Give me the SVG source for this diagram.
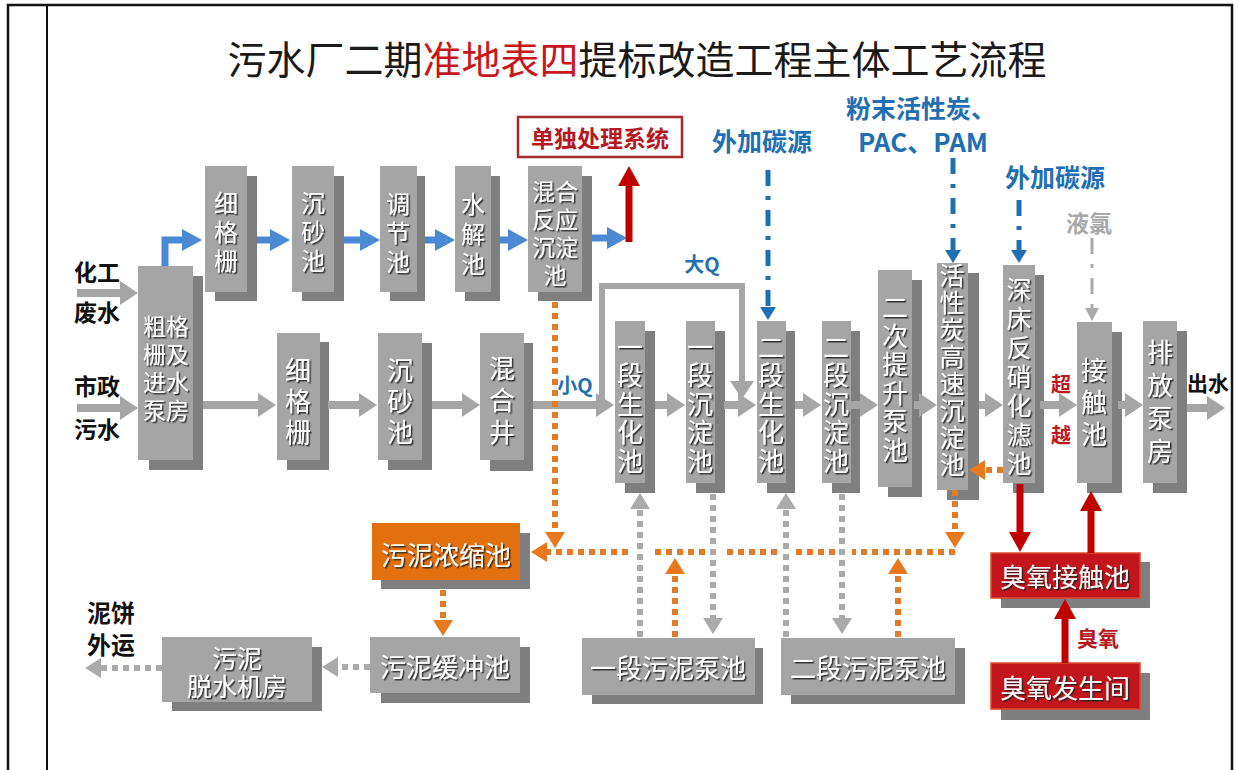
<svg xmlns="http://www.w3.org/2000/svg" width="1239" height="770" viewBox="0 0 1239 770">
<defs>
<style>
text{font-family:"Noto Sans CJK SC","Noto Sans",sans-serif;dominant-baseline:central;text-anchor:middle}
.v{writing-mode:vertical-rl}
.box{fill:#a5a5a5}
.sh{fill:#7f7f7f}
.org{fill:#e2700f}
.red{fill:#c3161c;stroke:#dd4a2a;stroke-width:1.5}
.bt{fill:#fff;font-size:26px;filter:url(#ts)}
.tt{fill:#fff;font-size:24px;filter:url(#ts)}
.st{fill:#fff;font-size:25px;filter:url(#ts)}
.ht{fill:#fff;font-size:26px;filter:url(#ts)}
.lb{fill:#111;font-size:23px;font-weight:bold;text-anchor:start}
.bl{fill:#1f6fb2;font-size:25px;font-weight:bold}
.cg{fill:none;stroke:#a5a5a5;stroke-width:8}
.cq{fill:none;stroke:#a5a5a5;stroke-width:6}
.cb{fill:none;stroke:#4a8ad4;stroke-width:7}
.cr{fill:none;stroke:#c00000;stroke-width:7}
.cgd{fill:none;stroke:#aaaaaa;stroke-width:6;stroke-dasharray:6 5}
.cod{fill:none;stroke:#e07b28;stroke-width:6;stroke-dasharray:6 5}
.cdd{fill:none;stroke:#1f6fb2;stroke-width:5;stroke-dasharray:16 10 4 10}
.cld{fill:none;stroke:#aaaaaa;stroke-width:3;stroke-dasharray:16 10 4 10}
</style>
<filter id="ts" x="-20%" y="-20%" width="150%" height="150%">
<feDropShadow dx="1.5" dy="1.5" stdDeviation="0.6" flood-color="#222" flood-opacity="0.85"/>
</filter>
<marker id="mg" markerUnits="userSpaceOnUse" viewBox="0 0 18 24" markerWidth="18" markerHeight="24" refX="0" refY="12" orient="auto"><path d="M0,0 L18,12 L0,24 Z" fill="#a5a5a5"/></marker>
<marker id="mb" markerUnits="userSpaceOnUse" viewBox="0 0 20 22" markerWidth="20" markerHeight="22" refX="0" refY="11" orient="auto"><path d="M0,0 L20,11 L0,22 Z" fill="#4a8ad4"/></marker>
<marker id="mr" markerUnits="userSpaceOnUse" viewBox="0 0 20 22" markerWidth="20" markerHeight="22" refX="0" refY="11" orient="auto"><path d="M0,0 L20,11 L0,22 Z" fill="#c00000"/></marker>
<marker id="mgd" markerUnits="userSpaceOnUse" viewBox="0 0 16 20" markerWidth="16" markerHeight="20" refX="0" refY="10" orient="auto"><path d="M0,0 L16,10 L0,20 Z" fill="#aaaaaa"/></marker>
<marker id="mo" markerUnits="userSpaceOnUse" viewBox="0 0 16 20" markerWidth="16" markerHeight="20" refX="0" refY="10" orient="auto"><path d="M0,0 L16,10 L0,20 Z" fill="#e8781e"/></marker>
<marker id="mbs" markerUnits="userSpaceOnUse" viewBox="0 0 13 16" markerWidth="13" markerHeight="16" refX="0" refY="8" orient="auto"><path d="M0,0 L13,8 L0,16 Z" fill="#1f6fb2"/></marker>
<marker id="mls" markerUnits="userSpaceOnUse" viewBox="0 0 13 14" markerWidth="13" markerHeight="14" refX="0" refY="7" orient="auto"><path d="M0,0 L13,7 L0,14 Z" fill="#aaaaaa"/></marker>
</defs>

<rect width="1239" height="770" fill="#fff"/>
<g id="frame" fill="none" stroke="#111">
<path d="M8,770 V5 H1232 V770" stroke-width="2.5"/>
<line x1="47" y1="5" x2="47" y2="770" stroke-width="2"/>
</g>

<text id="title" x="637" y="57" font-size="39" fill="#1a1a1a">污水厂二期<tspan fill="#c8161d">准地表四</tspan>提标改造工程主体工艺流程</text>

<!-- top row (chemical wastewater) -->
<g id="n-xgs1"><rect class="sh" x="215" y="176" width="42" height="125"/><rect class="box" x="205" y="166" width="42" height="126"/>
<text class="tt v" x="226" y="234.5" letter-spacing="5">细格栅</text></g>
<g id="n-csc1"><rect class="sh" x="302" y="176" width="42" height="125"/><rect class="box" x="292" y="166" width="42" height="126"/>
<text class="tt v" x="313" y="234.5" letter-spacing="5">沉砂池</text></g>
<g id="n-tjc"><rect class="sh" x="390" y="176" width="35" height="125"/><rect class="box" x="380" y="166" width="37" height="126"/>
<text class="tt v" x="398" y="235" letter-spacing="5">调节池</text></g>
<g id="n-sjc"><rect class="sh" x="465" y="176" width="35" height="125"/><rect class="box" x="455" y="166" width="36" height="126"/>
<text class="tt v" x="473" y="237" letter-spacing="6">水解池</text></g>
<g id="n-hhfy"><rect class="sh" x="538" y="176" width="54" height="125"/><rect class="box" x="528" y="166" width="54" height="126"/>
<text class="tt" style="font-size:23px"><tspan x="555" y="190">混合</tspan><tspan x="555" y="218">反应</tspan><tspan x="555" y="246">沉淀</tspan><tspan x="555" y="274">池</tspan></text></g>

<g id="n-ddcl"><rect x="518" y="117" width="164" height="40" fill="#fff" stroke="#a52a2a" stroke-width="2.5"/>
<text x="600" y="137" font-size="23" font-weight="bold" fill="#b5191f">单独处理系统</text></g>

<!-- main row -->
<g id="n-cgs"><rect class="sh" x="149" y="276" width="54" height="194"/><rect class="box" x="138" y="266" width="55" height="194"/>
<text class="tt" style="font-size:23px"><tspan x="166" y="325">粗格</tspan><tspan x="166" y="353">栅及</tspan><tspan x="166" y="381">进水</tspan><tspan x="166" y="409">泵房</tspan></text></g>
<g id="n-xgs2"><rect class="sh" x="287" y="342" width="42" height="128"/><rect class="box" x="277" y="333" width="43" height="127"/>
<text class="bt v" x="298" y="403.5" letter-spacing="5">细格栅</text></g>
<g id="n-csc2"><rect class="sh" x="388" y="343" width="44" height="127"/><rect class="box" x="378" y="333" width="44" height="127"/>
<text class="bt v" x="400" y="403.5" letter-spacing="5">沉砂池</text></g>
<g id="n-hhj"><rect class="sh" x="490" y="343" width="43" height="128"/><rect class="box" x="480" y="333" width="44" height="127"/>
<text class="bt v" x="502" y="403" letter-spacing="6">混合井</text></g>
<g id="n-ydsh"><rect class="sh" x="625" y="331" width="30" height="162"/><rect class="box" x="615" y="321" width="30" height="162"/>
<text class="bt v" x="630" y="405" letter-spacing="2.5">一段生化池</text></g>
<g id="n-ydcd"><rect class="sh" x="696" y="331" width="29" height="162"/><rect class="box" x="686" y="321" width="29" height="162"/>
<text class="bt v" x="700" y="405" letter-spacing="2.5">一段沉淀池</text></g>
<g id="n-edsh"><rect class="sh" x="767" y="331" width="28" height="162"/><rect class="box" x="757" y="321" width="29" height="162"/>
<text class="bt v" x="771" y="405" letter-spacing="2.5">二段生化池</text></g>
<g id="n-edcd"><rect class="sh" x="832" y="331" width="28" height="162"/><rect class="box" x="822" y="321" width="29" height="162"/>
<text class="bt v" x="836" y="405" letter-spacing="2.5">二段沉淀池</text></g>
<g id="n-ects"><rect class="sh" x="888" y="280" width="34" height="217"/><rect class="box" x="878" y="270" width="34" height="217"/>
<text class="bt v" x="895" y="380" letter-spacing="2.6">二次提升泵池</text></g>
<g id="n-hxt"><rect class="sh" x="947" y="273" width="32" height="227"/><rect class="box" x="937" y="263" width="31" height="227"/>
<text class="st v" x="952" y="370.5" letter-spacing="2">活性炭高速沉淀池</text></g>
<g id="n-scfx"><rect class="sh" x="1013" y="275" width="31" height="218"/><rect class="box" x="1003" y="265" width="32" height="218"/>
<text class="st v" x="1019" y="378" letter-spacing="4">深床反硝化滤池</text></g>
<g id="n-jcc"><rect class="sh" x="1087" y="332" width="35" height="161"/><rect class="box" x="1077" y="322" width="35" height="161"/>
<text class="bt v" x="1094" y="405" letter-spacing="6">接触池</text></g>
<g id="n-pfbf"><rect class="sh" x="1153" y="331" width="34" height="162"/><rect class="box" x="1143" y="321" width="34" height="162"/>
<text class="bt v" x="1160" y="405" letter-spacing="7">排放泵房</text></g>

<!-- sludge & ozone -->
<g id="n-wnns"><rect class="sh" x="381" y="533" width="149" height="56"/><rect class="org" x="372" y="523" width="148" height="57"/>
<text class="ht" x="446" y="553">污泥浓缩池</text></g>
<g id="n-wnhc"><rect class="sh" x="381" y="647" width="149" height="56"/><rect class="box" x="370" y="637" width="150" height="56"/>
<text class="ht" x="445" y="665">污泥缓冲池</text></g>
<g id="n-wnts"><rect class="sh" x="172" y="647" width="150" height="64"/><rect class="box" x="162" y="637" width="150" height="65"/>
<text class="ht" style="font-size:25px"><tspan x="237" y="657">污泥</tspan><tspan x="237" y="685">脱水机房</tspan></text></g>
<g id="n-ydwn"><rect class="sh" x="592" y="648" width="171" height="56"/><rect class="box" x="582" y="638" width="173" height="57"/>
<text class="ht" x="668" y="666">一段污泥泵池</text></g>
<g id="n-edwn"><rect class="sh" x="791" y="648" width="174" height="56"/><rect class="box" x="781" y="638" width="174" height="57"/>
<text class="ht" x="868" y="666">二段污泥泵池</text></g>
<g id="n-cyjc"><rect class="sh" x="1001" y="562" width="149" height="46"/><rect class="red" x="991" y="553" width="149" height="45"/>
<text class="ht" x="1065" y="575">臭氧接触池</text></g>
<g id="n-cyfs"><rect class="sh" x="1001" y="673" width="149" height="47"/><rect class="red" x="991" y="663" width="149" height="46"/>
<text class="ht" x="1065" y="686">臭氧发生间</text></g>

<!-- connectors -->
<g id="connectors">
<path class="cg" d="M77,293 H120" marker-end="url(#mg)"/>
<path class="cg" d="M77,408 H120" marker-end="url(#mg)"/>
<path class="cb" d="M165,266 V240 H182" marker-end="url(#mb)"/>
<path class="cb" d="M257,240 H270" marker-end="url(#mb)"/>
<path class="cb" d="M344,240 H360" marker-end="url(#mb)"/>
<path class="cb" d="M425,240 H435" marker-end="url(#mb)"/>
<path class="cb" d="M500,240 H508" marker-end="url(#mb)"/>
<path class="cb" d="M592,238 H607" marker-end="url(#mb)"/>
<path class="cr" d="M629,242 V186" marker-end="url(#mr)"/>

<path class="cg" d="M203,405 H258" marker-end="url(#mg)"/>
<path class="cg" d="M328,405 H359" marker-end="url(#mg)"/>
<path class="cg" d="M432,405 H462" marker-end="url(#mg)"/>
<path class="cg" d="M533,405 H596" marker-end="url(#mg)"/>
<path class="cq" d="M602,405 V286 H742 V381" marker-end="url(#mg)"/>
<path class="cg" d="M655,405 H667" marker-end="url(#mg)"/>
<path class="cg" d="M724,405 H738" marker-end="url(#mg)"/>
<path class="cg" d="M795,405 H803" marker-end="url(#mg)"/>
<path class="cg" d="M851,405 H860" marker-end="url(#mg)"/>
<path class="cg" d="M914,405 H919" marker-end="url(#mg)"/>
<path class="cg" d="M979,405 H985" marker-end="url(#mg)"/>
<path class="cg" d="M1040,405 H1059" marker-end="url(#mg)"/>
<path class="cg" d="M1118,405 H1125" marker-end="url(#mg)"/>
<path class="cg" d="M1187,408 H1207" marker-end="url(#mg)"/>

<path class="cdd" d="M768,170 V307" marker-end="url(#mbs)"/>
<path class="cdd" d="M953,158 V250" marker-end="url(#mbs)"/>
<path class="cdd" d="M1019,200 V250" marker-end="url(#mbs)"/>
<path class="cld" d="M1092,238 V308" marker-end="url(#mls)"/>

<path class="cgd" d="M640,637 V509" marker-end="url(#mgd)"/>
<path class="cgd" d="M713,494 V618" marker-end="url(#mgd)"/>
<path class="cgd" d="M786,637 V509" marker-end="url(#mgd)"/>
<path class="cgd" d="M842,494 V618" marker-end="url(#mgd)"/>
<path class="cgd" d="M370,667 H338" marker-end="url(#mgd)"/>
<path class="cgd" d="M162,668 H101" marker-end="url(#mgd)"/>

<path class="cod" d="M555,302 V532" marker-end="url(#mo)"/>
<path class="cod" d="M955,552 H852"/>
<path class="cod" d="M835,552 H796"/>
<path class="cod" d="M777,552 H722"/>
<path class="cod" d="M705,552 H650"/>
<path class="cod" d="M628,552 H547" marker-end="url(#mo)"/>
<path class="cod" d="M955,490 V532" marker-end="url(#mo)"/>
<path class="cod" d="M675,637 V574" marker-end="url(#mo)"/>
<path class="cod" d="M898,637 V574" marker-end="url(#mo)"/>
<path class="cod" d="M1003,470 H985" marker-end="url(#mo)"/>
<path class="cod" d="M443,590 V620" marker-end="url(#mo)"/>

<path class="cr" d="M1020,484 V532" marker-end="url(#mr)"/>
<path class="cr" d="M1091,553 V511" marker-end="url(#mr)"/>
<path class="cr" d="M1065,663 V619" marker-end="url(#mr)"/>
</g>

<!-- labels -->
<g id="labels">
<text class="lb" x="74" y="271">化工</text>
<text class="lb" x="74" y="311">废水</text>
<text class="lb" x="74" y="385">市政</text>
<text class="lb" x="74" y="428">污水</text>
<text class="lb" x="87" y="611" style="font-size:24px">泥饼</text>
<text class="lb" x="87" y="643" style="font-size:24px">外运</text>
<text x="1208" y="382" font-size="21" font-weight="bold" fill="#111">出水</text>
<text x="1061" y="383" font-size="20" font-weight="bold" fill="#c0161c">超</text>
<text x="1061" y="434" font-size="20" font-weight="bold" fill="#c0161c">越</text>
<text x="1098" y="637" font-size="21" font-weight="bold" fill="#b5191f">臭氧</text>
<text class="bl" x="762" y="140">外加碳源</text>
<text class="bl" x="921" y="107">粉末活性炭、</text>
<text class="bl" x="923" y="140" style="font-size:26px">PAC、PAM</text>
<text class="bl" x="1055" y="176">外加碳源</text>
<text x="1089" y="222" font-size="23" font-weight="bold" fill="#a8a8a8">液氯</text>
<text class="bl" x="702" y="263" style="font-size:20px">大Q</text>
<text class="bl" x="575" y="384" style="font-size:20px">小Q</text>
</g>
</svg>
